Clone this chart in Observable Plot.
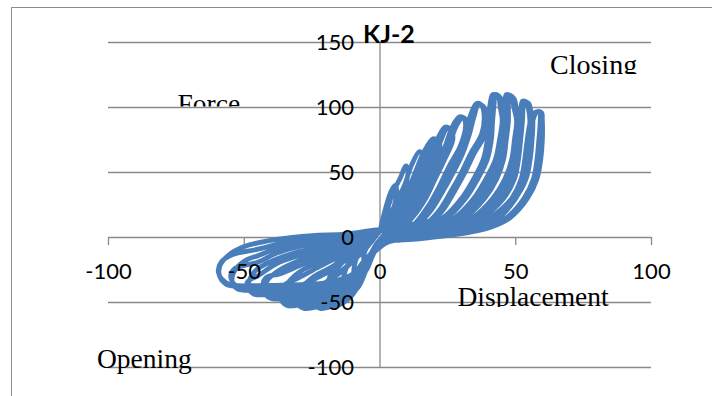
<!DOCTYPE html>
<html>
<head>
<meta charset="utf-8">
<script src="https://cdn.jsdelivr.net/npm/d3@7"></script>
<script src="https://cdn.jsdelivr.net/npm/@observablehq/plot@0.6"></script>
<style>
  html, body { margin: 0; padding: 0; background: #fff; overflow: hidden; }
  #wrap { position: relative; width: 712px; height: 396px; overflow: hidden; }
  #frame { position: absolute; left: 11px; top: 7px; width: 900px; height: 600px; border: 1.5px solid #8c8c8c; box-sizing: border-box; }
  #chart { position: absolute; left: 0; top: 0; }
  #overlay { position: absolute; left: 0; top: 0; pointer-events: none; }
</style>
</head>
<body>
<div id="wrap">
  <div id="frame"></div>
  <div id="chart"></div>
  <svg id="overlay" width="712" height="396">
    <defs>
      <clipPath id="clipClosing"><rect x="540" y="40" width="120" height="34"></rect></clipPath>
      <clipPath id="clipForce"><rect x="170" y="80" width="80" height="26.5"></rect></clipPath>
      <clipPath id="clipDisp"><rect x="450" y="270" width="180" height="37"></rect></clipPath>
    </defs>
    <text x="363" y="43" font-family="Lato" font-weight="bold" font-size="25" fill="#000">KJ-2</text>
    <text x="550" y="74" font-family="Liberation Serif" font-size="28" fill="#000" clip-path="url(#clipClosing)">Closing</text>
    <text x="177.5" y="112.5" font-family="Liberation Serif" font-size="27.5" fill="#000" clip-path="url(#clipForce)">Force</text>
    <text x="457.5" y="306" font-family="Liberation Serif" font-size="27.5" fill="#000" clip-path="url(#clipDisp)">Displacement</text>
    <text x="97" y="368" font-family="Liberation Serif" font-size="27.5" fill="#000">Opening</text>
  </svg>
</div>
<script>
// Axis ticks and gridlines
const xTicks = [-100, -50, 0, 50, 100];
const yTicks = [150, 100, 50, 0, -50, -100];
const yGrid = [150, 100, 50, -50, -100];

// Hysteresis cycles: [displacement, force]
const c05 = [[0,5],[2,22],[4,35],[5.5,40],[6.2,36],[5,22],[3,8],[0.5,-1],[-2,-10],[-4,-17],[-5.5,-19],[-6,-14],[-4.5,-6],[-2,1],[0,5]];
const c09 = [[0,5],[2.5,20],[4.5,33],[7.5,46],[9.5,55],[10.3,52],[9.5,40],[7.5,25],[4.5,10],[1,-1],[-2.5,-13],[-5,-25],[-8,-32],[-9.5,-29],[-9,-18],[-6,-6],[-2.5,1],[0,5]];
const c14 = [[0,5],[1.5,10],[5.5,25],[9,40],[11.5,55],[14.5,66],[15.5,64],[15.5,55],[13,40],[10,25],[5.5,10],[1.5,0],[0,-2],[-3,-14],[-5.5,-27],[-8,-38],[-11.5,-44],[-13.5,-40],[-13,-27],[-9.5,-12],[-5,-1],[0,5]];
const c19a = [[0,5],[1.5,8],[6,20],[10,35],[13,50],[16,65],[19.5,76],[21,74.5],[20.5,65],[17.5,50],[14.5,35],[10.5,20],[5.5,8],[1.5,0],[0,-2],[-3.5,-14],[-6,-27],[-8.5,-39],[-12,-48],[-17,-52.5],[-19.5,-47],[-19,-35],[-15,-22],[-9,-9],[-3,2],[0,5]];
const c19b = [[0,5],[2.5,8],[7.5,20],[11.5,35],[14.5,50],[17.5,65],[20.2,75.5],[21.8,73.5],[21.8,65],[18.8,50],[15.8,35],[11.8,20],[6.8,8],[2,-0.5],[0,-2],[-3.5,-15],[-6,-28],[-9,-40],[-13,-48],[-17.5,-51],[-19.5,-45],[-18.5,-30],[-14,-14],[-8,-3],[0,5]];
const c24a = [[0,5],[3,9],[6,15],[11,30],[14.5,45],[18,60],[21,75],[24,85],[25.5,83.5],[25.5,75],[22.5,60],[19,45],[15.5,30],[10.5,15],[5.5,5],[1.5,-1],[0,-2],[-3.5,-14],[-6,-28],[-9,-40],[-13,-49],[-18,-53],[-22,-54.5],[-24.5,-50],[-23.5,-42],[-19.5,-34],[-14,-26],[-8,-14],[-3,-3],[0,5]];
const c24b = [[0,5],[4,9],[7.5,15],[12.5,30],[16,45],[19.5,60],[22.5,75],[24.8,84.5],[26.3,82.5],[26.8,75],[23.8,60],[20.3,45],[16.8,30],[11.8,15],[6.5,4.5],[2,-1.5],[0,-2],[-4,-15],[-7,-29],[-10,-41],[-15,-49],[-20,-52.5],[-24,-51],[-25,-44],[-22.5,-38],[-17.5,-31],[-11,-20],[-5,-8],[0,5]];
const c29a = [[0,5],[4.5,8],[8,10],[13.5,25],[17.5,40],[21,55],[24,70],[26,82],[28,90],[29.5,93],[31,91.5],[31.5,85],[29.5,70],[25.5,55],[22,40],[18,25],[12.5,10],[8,4],[2,-1.5],[0,-2],[-3.5,-14],[-6.5,-29],[-9.5,-41],[-14,-48],[-21,-52],[-28,-54.5],[-30.5,-50],[-29.5,-41],[-25,-31],[-18,-23],[-12,-14],[-6,-5],[0,5]];
const c29b = [[0,5],[5.5,8],[9.5,10],[15,25],[19,40],[22.5,55],[25.5,70],[27.5,83],[29.3,90],[30.3,92.5],[31.8,90.5],[32.8,84],[30.8,70],[26.8,55],[23.3,40],[19.3,25],[13.8,10],[9,4],[2.5,-1.5],[0,-2],[-4,-15],[-7,-30],[-11,-42],[-17,-48.5],[-24,-51.5],[-29,-52],[-31,-46],[-29.5,-38],[-24,-32],[-17,-24],[-10,-13],[-4,-3],[0,5]];
const c35a = [[0,5],[6,6.5],[11,8],[17,20],[21.5,35],[25.5,50],[29,65],[31.5,80],[33,92],[35.5,103],[37.3,102],[38.3,95],[37.5,80],[33.5,65],[30,50],[26,35],[21.5,20],[15.5,8],[9,2],[2,-2],[0,-2],[-4,-15],[-7,-30],[-11,-41],[-18,-47],[-26,-50],[-34,-52.5],[-36.5,-47],[-35,-38],[-30,-27],[-22,-18.5],[-15,-12.5],[-7,-5],[0,5]];
const c35b = [[0,5],[8,6.5],[12.5,8],[18.5,20],[23,35],[27,50],[30.5,65],[33,80],[34.5,92],[36.3,102.5],[38,101],[39.3,94],[38.8,80],[34.8,65],[31.3,50],[27.3,35],[22.8,20],[16.8,8],[10,2],[2,-2],[0,-2],[-4,-16],[-7.5,-30],[-12,-41],[-20,-46],[-29,-49],[-35,-49],[-37,-43],[-35.5,-37],[-30,-31],[-22,-22],[-15,-14.5],[-7,-6],[0,5]];
const c41a = [[0,5],[7,8],[14,11],[19,13],[23,15],[30,30],[34.5,45],[38,60],[39.5,75],[40,90],[40.5,102],[41.5,110],[43.5,108.5],[44.3,100],[45,90],[44,75],[42.5,60],[39,45],[34.5,30],[27.5,15],[20.5,7],[13.5,3],[6,0],[1,-2.5],[-4,-16],[-8,-31],[-13,-40],[-22,-45],[-32,-46],[-40,-47],[-42.5,-42],[-41.5,-33],[-37,-25],[-30,-18],[-22,-12],[-15,-7.5],[-7,-2],[0,5]];
const c41b = [[0,5],[8.5,8],[15.5,11],[20.5,13],[24.5,15],[31.5,30],[36,45],[39.5,60],[41,75],[41.5,90],[42,102],[42.5,110],[44.3,107.5],[45.3,99],[46.2,90],[45.3,75],[43.8,60],[40.3,45],[35.8,30],[28.8,15],[21.5,7],[14.5,2.5],[7,-0.5],[1,-2.5],[-4.5,-16],[-8,-30],[-14,-39],[-24,-43],[-34,-44],[-41,-44],[-43,-38],[-42,-31],[-37,-28],[-30,-22],[-22,-15],[-15,-9.5],[-7,-3],[0,5]];
const c46a = [[0,5],[9,7],[17,10],[24,12],[29.5,15],[37,30],[41.5,45],[44,60],[45,75],[46,90],[46,102],[46.5,110],[48.5,108],[49.3,100],[50.3,90],[49.5,75],[48.5,60],[46,45],[41.5,30],[34,15],[26,7],[17,2.5],[8,-0.5],[2,-3],[-4.5,-16],[-8.5,-30],[-15,-38],[-26,-42],[-37,-43],[-46.5,-43.5],[-48.5,-38],[-47.5,-30],[-45,-24],[-38,-16.5],[-30,-11],[-15,-3.5],[0,5]];
const c46b = [[0,5],[11,7],[19,10],[26,12],[31,15],[38.5,30],[43,45],[45.5,60],[46.5,75],[47.3,90],[47.3,102],[47.5,109.5],[49.3,107],[50.3,99],[51.5,90],[50.8,75],[49.8,60],[47.3,45],[42.8,30],[35.5,15],[27.5,7],[18.5,2.5],[9,-1],[2,-3],[-4.5,-16],[-9,-29],[-16,-37],[-28,-40.5],[-39,-41],[-46,-41],[-49,-35],[-47.5,-32],[-45,-29.5],[-38,-20],[-30,-14],[-15,-5],[0,5]];
const c52a = [[0,5],[13,6.5],[24,9],[31,11],[36,15],[44,30],[48,45],[50,60],[51,75],[52,90],[52,101],[52.5,105],[54,104],[54.6,100],[55.2,90],[54.7,75],[54,60],[52.5,45],[48.5,30],[40.5,15],[34,8],[26,4],[16,1],[7,-1.5],[2,-3],[-5,-16],[-9.5,-29],[-17,-36],[-30,-39],[-42,-40],[-52.5,-39.5],[-54.5,-33],[-53,-24],[-49,-17],[-45,-14],[-38,-8.5],[-30,-4],[-15,0],[0,5.5]];
const c52b = [[0,5.5],[15,6.5],[26,9],[33,11],[37.5,15],[45.5,30],[49.5,45],[51,60],[51.8,75],[52.5,90],[52.8,101],[53.3,104.5],[54.8,103],[55.5,98],[56.3,90],[56,75],[55.3,60],[53.8,45],[49.8,30],[42,15],[35,8],[27,3.5],[17,0.5],[8,-2],[2,-3],[-5,-16],[-10,-28],[-18,-35],[-32,-37.5],[-45,-38],[-53,-37],[-55,-30],[-53.5,-24],[-49,-21],[-45,-19],[-38,-12],[-30,-7],[-15,-1.5],[0,5.5]];
const c59a = [[0,5.5],[15,6],[27,8],[34,10.5],[42,15],[48.5,30],[52,45],[53.3,60],[54.2,75],[55.5,90],[57,96],[58.8,96.5],[59,90],[58.5,75],[57.8,60],[56.5,45],[53,30],[46.5,15],[40,8.5],[32,4.5],[22,1.5],[11,-1],[3,-3],[-5,-16],[-10,-28],[-19,-34.5],[-33,-36.5],[-47,-37],[-56,-36.5],[-59,-30],[-59,-22],[-56,-14],[-50,-7],[-38,-1.5],[-25,1.5],[-13,2.5],[0,6]];
const c59b = [[0,6],[17,6],[29,8],[36,10.5],[43.5,15],[50,30],[53.5,45],[54.8,60],[55.5,75],[56.3,90],[57.8,96.5],[59.5,96],[59.8,90],[59.8,75],[59.2,60],[57.8,45],[54.3,30],[47.8,15],[41,8],[33,4],[23,1],[12,-1.5],[3,-3.5],[-5,-17],[-10.5,-29],[-20,-35.5],[-34,-37.5],[-48,-37.5],[-56.5,-35],[-59.5,-27],[-58.5,-19],[-54,-13],[-45,-9],[-30,-1.5],[-15,1],[0,6]];

const cycles = [c05, c09, c14, c19a, c19b, c24a, c24b, c29a, c29b, c35a, c35b, c41a, c41b, c46a, c46b, c52a, c52b, c59a, c59b];
const points = [];
for (const c of cycles) {
  for (const [x, y] of c) {
    const last = points[points.length - 1];
    if (last && last.x === x && last.y === y) continue;
    points.push({x, y});
  }
}

const gray = "#8a8a8a";
const sans = "Lato";

const chart = Plot.plot({
  width: 712,
  height: 396,
  marginLeft: 108,
  marginRight: 61,
  marginTop: 42,
  marginBottom: 29,
  style: {background: "transparent"},
  x: {domain: [-100, 100], axis: null},
  y: {domain: [-100, 150], axis: null},
  marks: [
    Plot.ruleY(yGrid, {y: d => d, x1: -100, x2: 100, stroke: gray, strokeWidth: 1.3}),
    Plot.ruleY([0], {y: d => d, x1: -100, x2: 100, stroke: gray, strokeWidth: 1.3}),
    Plot.ruleX(xTicks, {x: d => d, y1: 0, y2: -6.2, stroke: gray, strokeWidth: 1.3}),
    Plot.ruleX([0], {x: d => d, y1: -100, y2: 150, stroke: gray, strokeWidth: 1.3}),
    Plot.line(points, {x: "x", y: "y", curve: "catmull-rom", stroke: "#4a7ebb", strokeWidth: 4.8, strokeLinejoin: "round", strokeLinecap: "round"}),
    Plot.text(xTicks, {x: d => d, y: 0, dy: 34.5, text: d => String(d), fontFamily: sans, fontSize: 22, fill: "#000"}),
    Plot.text(yTicks, {x: 0, y: d => d, dx: -26, textAnchor: "end", text: d => String(d), fontFamily: sans, fontSize: 22, fill: "#000"})
  ]
});
document.getElementById("chart").appendChild(chart);
</script>
</body>
</html>
